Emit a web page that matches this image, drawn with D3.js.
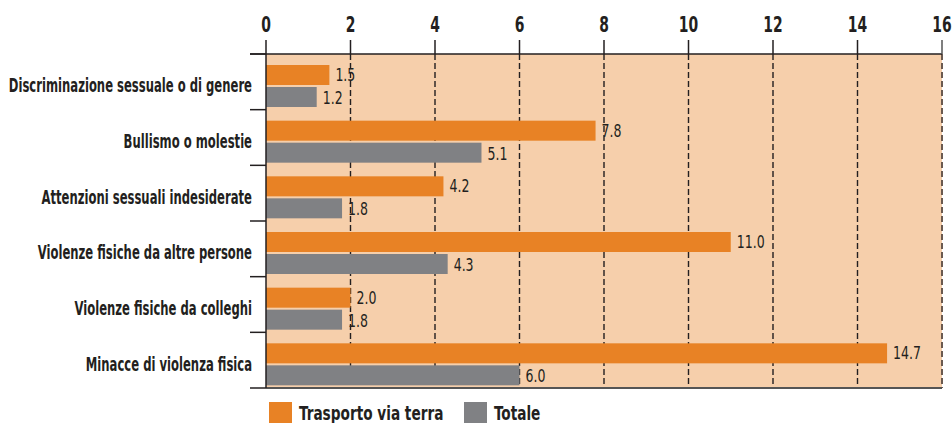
<!DOCTYPE html>
<html>
<head>
<meta charset="utf-8">
<script src="https://cdn.jsdelivr.net/npm/d3@7"></script>
<style>
  body { margin: 0; background: #fff; }
  svg text { font-family: "DejaVu Sans Condensed", "DejaVu Sans", sans-serif; fill: #231f20; }
  .cat { font-weight: bold; font-size: 19px; }
  .tick-label { font-weight: bold; font-size: 21.5px; }
  .val { font-size: 17px; }
  .leg { font-weight: bold; font-size: 19px; }
</style>
</head>
<body>
<svg id="chart" width="952" height="423"></svg>
<script>
const categories = [
    'Discriminazione sessuale o di genere'
  , 'Bullismo o molestie'
  , 'Attenzioni sessuali indesiderate'
  , 'Violenze fisiche da altre persone'
  , 'Violenze fisiche da colleghi'
  , 'Minacce di violenza fisica'
  ]
  , trasporto = [1.5, 7.8, 4.2, 11.0, 2.0, 14.7]
  , totale = [1.2, 5.1, 1.8, 4.3, 1.8, 6.0]
  , ticks = [0, 2, 4, 6, 8, 10, 12, 14, 16]
  , seriesNames = ['Trasporto via terra', 'Totale']
  , colors = ['#e88225', '#808184']

const plotLeft = 266
    , plotRight = 942
    , plotTop = 54
    , plotBottom = 388
    , svg = d3.select('#chart')
    , x = d3.scaleLinear().domain([0, 16]).range([plotLeft, plotRight])
    , y = d3.scaleBand().domain(categories).range([plotTop, plotBottom])

// condensed text: squeeze horizontally to mimic a narrow font
const label = (cls, tx, ty, sx, anchor, str) =>
    svg.append('text')
        .attr('class', cls)
        .attr('transform', `translate(${tx},${ty}) scale(${sx},1)`)
        .attr('text-anchor', anchor)
        .text(str)

// background
svg.append('rect')
    .attr('x', plotLeft).attr('y', plotTop)
    .attr('width', plotRight - plotLeft).attr('height', plotBottom - plotTop)
    .attr('fill', '#f6cfab')

// dashed grid
svg.selectAll('line.grid')
    .data(ticks.slice(1))
    .join('line')
    .attr('x1', x).attr('x2', x)
    .attr('y1', plotTop).attr('y2', plotBottom)
    .attr('stroke', d => d === 16 ? '#6b5a50' : '#231f20')
    .attr('stroke-width', d => d === 16 ? 2 : 1.4)
    .attr('stroke-dasharray', '6,3')

// bars
const barH = 20
categories.forEach((c, i) => {
    const y0 = y(c) + 11
    svg.append('rect')
        .attr('x', x(0)).attr('y', y0)
        .attr('width', x(trasporto[i]) - x(0)).attr('height', barH)
        .attr('fill', colors[0])
    svg.append('rect')
        .attr('x', x(0)).attr('y', y0 + barH + 2)
        .attr('width', x(totale[i]) - x(0)).attr('height', barH)
        .attr('fill', colors[1])
    label('val', x(trasporto[i]) + 6, y0 + 16, 0.82, 'start', trasporto[i].toFixed(1))
    label('val', x(totale[i]) + 6, y0 + barH + 2 + 17, 0.82, 'start', totale[i].toFixed(1))
    label('cat', 252, y(c) + y.bandwidth() / 2 + 10.5, 0.68, 'end', c)
})

// axes
svg.append('line')
    .attr('x1', 250).attr('x2', plotRight)
    .attr('y1', plotTop).attr('y2', plotTop)
    .attr('stroke', '#231f20').attr('stroke-width', 1.5)
svg.append('line')
    .attr('x1', plotLeft).attr('x2', plotRight)
    .attr('y1', plotBottom).attr('y2', plotBottom)
    .attr('stroke', '#555').attr('stroke-width', 2)
svg.append('line')
    .attr('x1', plotLeft).attr('x2', plotLeft)
    .attr('y1', plotTop).attr('y2', plotBottom)
    .attr('stroke', '#231f20').attr('stroke-width', 1.5)
svg.selectAll('line.ytick')
    .data(categories.map(c => y(c)).concat([plotBottom]))
    .join('line')
    .attr('x1', 250).attr('x2', plotLeft)
    .attr('y1', d => d).attr('y2', d => d)
    .attr('stroke', '#231f20').attr('stroke-width', 1.5)
svg.selectAll('line.xtick')
    .data(ticks)
    .join('line')
    .attr('x1', x).attr('x2', x)
    .attr('y1', 40).attr('y2', plotTop)
    .attr('stroke', d => d === 16 ? '#555' : '#231f20')
    .attr('stroke-width', 1.5)
ticks.forEach(t => label('tick-label', x(t), 32, 0.72, 'middle', t))

// legend
const legX = [269, 464]
seriesNames.forEach((n, i) => {
    svg.append('rect')
        .attr('x', legX[i]).attr('y', 402)
        .attr('width', 23).attr('height', 22)
        .attr('fill', colors[i])
    label('leg', legX[i] + 30, 420, 0.8, 'start', n)
})
</script>
</body>
</html>
